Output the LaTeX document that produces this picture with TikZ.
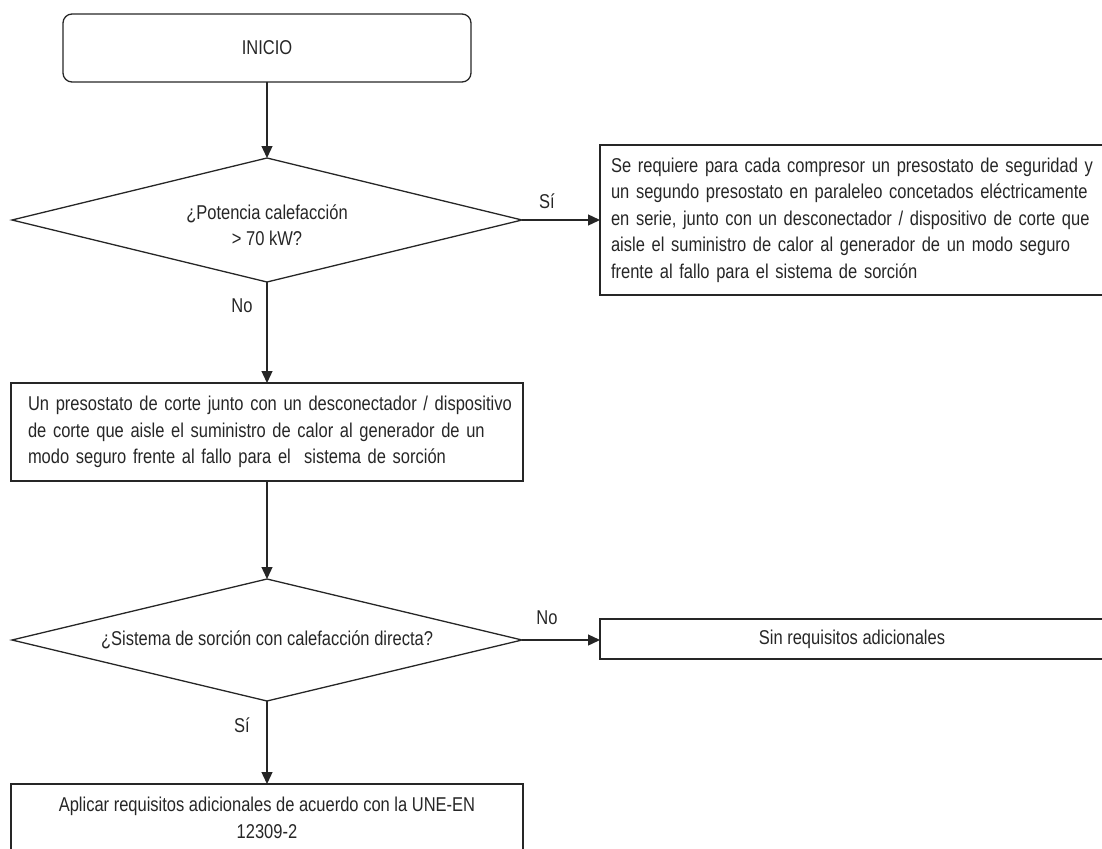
\documentclass[tikz,border=0pt]{standalone}
\usepackage{fontspec}
\setmainfont[FakeStretch=0.825]{Liberation Sans}
\usetikzlibrary{shapes.geometric,arrows.meta}
\begin{document}
\begin{tikzpicture}[x=1pt,y=-1pt,
  every node/.style={font=\fontsize{20}{26.5}\selectfont, text=black!85},
  shp/.style={draw=black!85, line width=1.3pt, inner sep=0pt, outer sep=0pt},
  box/.style={shp, rectangle},
  startbox/.style={shp, rectangle, rounded corners=9pt, minimum width=408pt, minimum height=68pt},
  dec/.style={shp, diamond, minimum width=510pt, minimum height=124pt},
  lbl/.style={inner sep=0pt},
  arr/.style={draw=black!85, line width=1.3pt, -{Triangle[length=12pt,width=11pt]}}]
\useasboundingbox (0,0) rectangle (1102,848);
\clip (0,0) rectangle (1102,848);

\node[startbox] (ini) at (267,48) {INICIO};
\node[dec] (d1) at (267,220) {};
\node[lbl, align=center] (d1t) at (267,225) {¿Potencia calefacción\\> 70 kW?};
\node[box, minimum width=504pt, minimum height=150pt, text width=482pt, align=left] (r1) at (852,220)
  {\mbox{Se requiere para cada compresor un presostato de seguridad y}\\
   \mbox{un segundo presostato en paraleleo concetados eléctricamente}\\
   \mbox{en serie, junto con un desconectador / dispositivo de corte que}\\
   \mbox{aisle el suministro de calor al generador de un modo seguro}\\
   \mbox{frente al fallo para el sistema de sorción}};
\node[box, minimum width=512pt, minimum height=98pt, text width=478pt, align=left] (b2) at (267,432)
  {\mbox{Un presostato de corte junto con un desconectador / dispositivo}\\
   \mbox{de corte que aisle el suministro de calor al generador de un}\\
   \mbox{modo seguro frente al fallo para el \ sistema de sorción}};
\node[dec, minimum height=122pt] (d2) at (267,640) {};
\node[lbl] (d2t) at (267,640) {¿Sistema de sorción con calefacción directa?};
\node[box, minimum width=504pt, minimum height=40pt] (r2) at (852,639) {Sin requisitos adicionales};
\node[box, minimum width=512pt, minimum height=68pt, align=center] (b3) at (267,818)
  {Aplicar requisitos adicionales de acuerdo con la UNE-EN\\12309-2};

\node[lbl] (l1) at (547,201) {Sí};
\node[lbl] (l2) at (242,306) {No};
\node[lbl] (l3) at (547,618) {No};
\node[lbl] (l4) at (242,725) {Sí};

\draw[arr] (ini) -- (d1);
\draw[arr] (d1.east) -- (d1.east -| r1.west);
\draw[arr] (d1) -- (b2);
\draw[arr] (b2) -- (d2);
\draw[arr] (d2.east) -- (d2.east -| r2.west);
\draw[arr] (d2) -- (b3);
\end{tikzpicture}
\end{document}
